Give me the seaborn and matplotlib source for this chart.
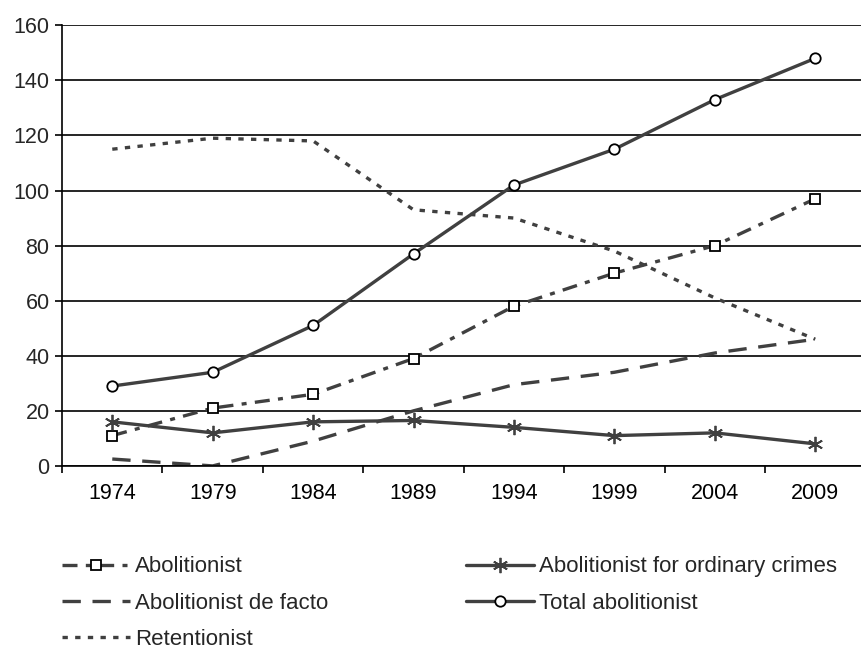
import pandas as pd
import matplotlib.pyplot as plt
import seaborn as sns
from matplotlib.lines import Line2D

years = ['1974', '1979', '1984', '1989', '1994', '1999', '2004', '2009']
abolitionist = [11, 21, 26, 39, 58, 70, 80, 97]
ordinary = [16, 12, 16, 16.5, 14, 11, 12, 8]
de_facto = [2.5, 0, 9, 20, 29.5, 34, 41, 46]
total = [29, 34, 51, 77, 102, 115, 133, 148]
retentionist = [115, 119, 118, 93, 90, 78, 61, 46]

sns.set_theme(style='white')
plt.rcParams['font.family'] = ['Liberation Sans', 'DejaVu Sans']

col = '#404040'
lw = 2.4

series = [
    ('Abolitionist', abolitionist, dict(dashes=(4.5, 2.5, 1.5, 2.5), marker='s', ms=7)),
    ('Abolitionist de facto', de_facto, dict(dashes=(5.5, 3.5), marker=None, ms=0)),
    ('Retentionist', retentionist, dict(dashes=(1.6, 2.2), marker=None, ms=0)),
    ('Abolitionist for ordinary crimes', ordinary, dict(dashes=None, marker=(6, 2, 0), ms=11)),
    ('Total abolitionist', total, dict(dashes=None, marker='o', ms=7.5)),
]

fig = plt.figure(figsize=(8.62, 6.48), dpi=100)
ax = fig.add_axes([0.072, 0.281, 0.932, 0.68])

handles = []
for name, vals, st in series:
    df = pd.DataFrame({'year': years, 'value': vals})
    kw = dict(color=col, linewidth=lw)
    if st['marker'] is not None:
        kw.update(marker=st['marker'], markersize=st['ms'], markerfacecolor='white',
                  markeredgecolor='black' if st['marker'] != (6, 2, 0) else col,
                  markeredgewidth=1.3)
    sns.lineplot(data=df, x='year', y='value', ax=ax, sort=False, **kw)
    ln = ax.get_lines()[-1]
    if st['dashes'] is not None:
        ln.set_dashes(st['dashes'])
    h = Line2D([], [], color=col, linewidth=lw, **{k: v for k, v in kw.items() if k.startswith('marker')})
    if st['dashes'] is not None:
        h.set_dashes(st['dashes'])
    handles.append(h)

ax.set_xlim(-0.5, 7.5)
ax.set_ylim(0, 160)
ax.set_yticks(range(0, 161, 20))
ax.yaxis.grid(True, color='black', linewidth=1.2)
ax.set_axisbelow(True)
ax.set_xlabel('')
ax.set_ylabel('')
for s in ['top', 'right']:
    ax.spines[s].set_visible(False)
for s in ['left', 'bottom']:
    ax.spines[s].set_color('black')
    ax.spines[s].set_linewidth(1.2)
ax.set_xticks([i + 0.5 for i in range(-1, 8)], minor=True)
ax.tick_params(axis='x', which='major', length=0, pad=12, labelsize=15.5, colors='black')
ax.tick_params(axis='x', which='minor', length=5, width=1.2, color='black', direction='out', bottom=True)
ax.tick_params(axis='y', length=5, width=1.2, color='black', direction='out', left=True, labelsize=15.5, pad=4)

fig.legend(handles, [s[0] for s in series], ncol=2, loc='upper left',
           bbox_to_anchor=(0.062, 0.155), frameon=False, fontsize=16,
           handlelength=3.05, handletextpad=0.22, columnspacing=6.2,
           labelspacing=0.68, numpoints=1, borderaxespad=0)

fig.savefig('out.png', dpi=100)
